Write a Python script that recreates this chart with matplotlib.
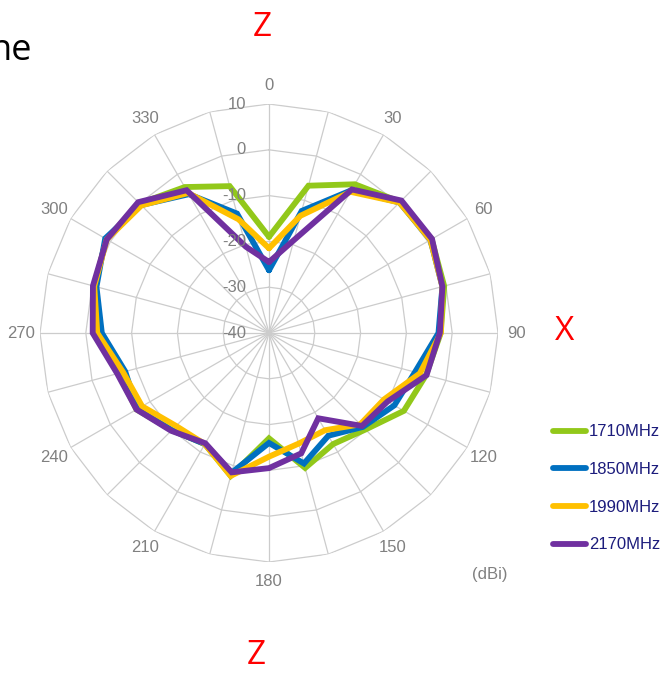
import matplotlib
matplotlib.use("Agg")
import matplotlib.pyplot as plt
import numpy as np

# radiation pattern, gain in dBi every 15 degrees
angles = list(range(0, 360, 15))
angle_labels = list(range(0, 360, 30))
series_names = ["1710MHz", "1850MHz", "1990MHz", "2170MHz"]
gain_1710 = [-19, -6.7, -2.5, 0.5, 1.0, -0.4, -2.5, -4.5, -6, -10.2, -12, -9.5,
             -17, -7.7, -12, -10, -6.6, -6, -2.0, -0.5, 1.0, 0, -3.2, -6.8]
gain_1850 = [-26.3, -12.4, -4, 0.3, 0.7, -0.8, -3, -7, -8.4, -11, -14.1, -10.5,
             -16, -8.4, -12, -10, -6.8, -7.5, -3.5, -1, 1.3, -0.5, -5, -13]
gain_1990 = [-21.5, -13.5, -4.4, 0.3, 0.7, -0.8, -2.5, -5.9, -11, -11.8, -15.5, -15,
             -13, -7.7, -12, -11.3, -8, -7, -2.5, -0.5, 0.9, -0.6, -4.7, -14.3]
gain_2170 = [-24.5, -19, -3.8, 0.9, 1.1, -0.8, -2.7, -4.4, -10.1, -11.3, -18.5, -12.8,
             -10.5, -8.5, -12.2, -9.8, -6.6, -5.7, -1.5, -0.2, 0.9, 0.4, -4, -20.5]
ring_values = [-40, -30, -20, -10, 0, 10]

colors = ['#92C81A', '#0070C0', '#FFC000', '#7030A0']
grid_c = '#cccccc'
label_c = '#808080'

fig = plt.figure(figsize=(6.69, 6.75), dpi=100)
ax = fig.add_axes([0.0598, 0.1674, 0.6846, 0.6785], projection='polar')
ax.set_theta_zero_location('N')
ax.set_theta_direction(-1)
ax.grid(False)
ax.set_xticks([])
ax.set_yticks([])
ax.spines['polar'].set_visible(False)
ax.patch.set_alpha(0)

theta = np.deg2rad(angles)
closed = np.append(theta, theta[0])

# polygon gridlines like an Excel radar chart
for rv in ring_values[1:]:
    ax.plot(closed, [rv] * len(closed), color=grid_c, lw=0.9, zorder=1)
for t in theta:
    ax.plot([t, t], [ring_values[0], ring_values[-1]], color=grid_c, lw=0.9, zorder=1)

lines = []
for vals, c, name in zip([gain_1710, gain_1850, gain_1990, gain_2170], colors, series_names):
    ln, = ax.plot(closed, vals + [vals[0]], color=c, lw=4.2, label=name,
                  solid_joinstyle='miter', solid_capstyle='round', zorder=3)
    lines.append(ln)

ax.set_rlim(ring_values[0], ring_values[-1])

# angle labels sit ~19 px outside the outer ring
px_per_db = 229 / (ring_values[-1] - ring_values[0])
r_lab = ring_values[-1] + 19 / px_per_db
for a in angle_labels:
    ax.text(np.deg2rad(a), r_lab, str(a), ha='center', va='center', color=label_c,
            fontsize=12, family='Liberation Sans')

for rv in ring_values:
    ax.annotate(str(rv), xy=(0, rv), xytext=(-23, 0), textcoords='offset pixels',
                ha='right', va='center', color=label_c, fontsize=12,
                family='Liberation Sans')

fig.legend(handles=lines, loc='upper left', bbox_to_anchor=(0.8266, 0.3712),
           frameon=False, borderpad=0, borderaxespad=0, handlelength=2.0,
           handletextpad=0.15, labelspacing=1.36, labelcolor='#1c1c7c',
           prop={'family': 'Liberation Sans', 'size': 12})

fig.text(490 / 669, 1 - 575 / 675, '(dBi)', ha='center', va='center',
         color=label_c, fontsize=12, family='Liberation Sans')

fig.text(262 / 669, 1 - 28 / 675, 'Z', ha='center', va='center', color='red',
         fontsize=24, family='Open Sans')
fig.text(256 / 669, 1 - 655 / 675, 'Z', ha='center', va='center', color='red',
         fontsize=24, family='Open Sans')
fig.text(565 / 669, 1 - 332 / 675, 'X', ha='center', va='center', color='red',
         fontsize=24, family='Open Sans')
fig.text(32 / 669, 1 - 60 / 675, 'ne', ha='right', va='baseline', color='black',
         fontsize=26, family='Open Sans')

fig.savefig('out.png', dpi=100)
